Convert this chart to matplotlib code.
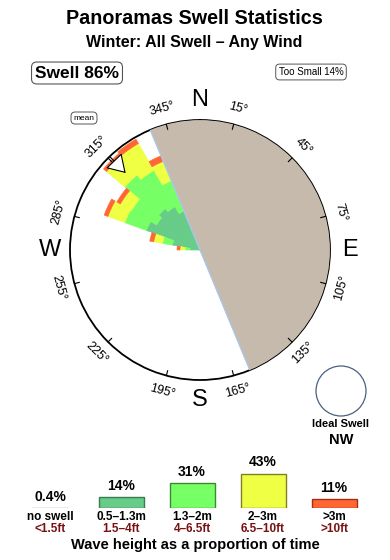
import numpy as np
import matplotlib
matplotlib.use("Agg")
import matplotlib.pyplot as plt
from matplotlib.patches import Circle

plt.rcParams['font.family'] = ['Liberation Sans', 'DejaVu Sans']

# ---------------- data ----------------
dir_centers = [275, 285, 295, 305, 315, 325, 335, 345]   # degrees (10-degree bins)
teal_len   = [10, 28, 57, 50, 54, 50, 42, 26]    # 0.5-1.3m
green_len  = [5, 10, 23, 29, 44, 42, 33, 24]     # 1.3-2m
yellow_len = [5, 9, 18, 13, 24, 31, 21, 16]      # 2-3m
orange_len = [3, 4, 4, 4, 4, 5, 6, 4]            # >3m
mean_dir = 316
shadow_start = 337.5   # land shadow sector start (deg), 180 wide
tick_deg = [15, 45, 75, 105, 135, 165, 195, 225, 255, 285, 315, 345]
compass = ['N', 'E', 'S', 'W']
compass_deg = [0, 90, 180, 270]

cats = ['no swell', '0.5–1.3m', '1.3–2m', '2–3m', '>3m']
feet = ['<1.5ft', '1.5–4ft', '4–6.5ft', '6.5–10ft', '>10ft']
pcts = [0.4, 14, 31, 43, 11]
pct_labels = ['0.4%', '14%', '31%', '43%', '11%']

teal, green, yellow, orange = '#66CC88', '#77FF66', '#EEFF44', '#FF6633'
beige = '#C5BAAB'

W, H = 390, 560
fig = plt.figure(figsize=(W/100, H/100), dpi=100)

def fx(px):
    return px / W

def fy(py):
    return 1 - py / H

# ---------------- titles ----------------
fig.text(fx(194), fy(19), 'Panoramas Swell Statistics', ha='center', va='center',
         fontsize=14.2, fontweight='bold')
fig.text(fx(194), fy(42), 'Winter: All Swell – Any Wind', ha='center', va='center',
         fontsize=11.5, fontweight='bold')
fig.text(fx(77), fy(73), 'Swell 86%', ha='center', va='center', fontsize=12.5,
         fontweight='bold',
         bbox=dict(boxstyle='round,pad=0.2,rounding_size=0.3', fc='white', ec='#555555', lw=0.8))
fig.text(fx(311), fy(72), 'Too Small 14%', ha='center', va='center', fontsize=7,
         bbox=dict(boxstyle='round,pad=0.3,rounding_size=0.4', fc='white', ec='#555555', lw=0.7))
fig.text(fx(84), fy(118), 'mean', ha='center', va='center', fontsize=6,
         bbox=dict(boxstyle='round,pad=0.3,rounding_size=0.5', fc='white', ec='#555555', lw=0.7))

# ---------------- rose ----------------
cx, cy, R = 200, 250, 130
ax = fig.add_axes([fx(cx - R), fy(cy + R), 2 * R / W, 2 * R / H], projection='polar')
ax.set_theta_zero_location('N')
ax.set_theta_direction(-1)
ax.set_ylim(0, 130)
ax.set_yticks([])
ax.set_xticks([])
ax.grid(False)
ax.spines['polar'].set_linewidth(1.3)
ax.spines['polar'].set_color('black')

theta = np.deg2rad(dir_centers)
width = np.deg2rad(10)
bottom = np.zeros(len(dir_centers))
for vals, col in [(teal_len, teal), (green_len, green), (yellow_len, yellow), (orange_len, orange)]:
    v = np.array(vals, dtype=float)
    ax.bar(theta, v, width=width, bottom=bottom, color=col, edgecolor=col,
           linewidth=0.4, zorder=2)
    bottom = bottom + v

# land shadow
ax.bar(np.deg2rad(shadow_start + 90), 130, width=np.pi, bottom=0, color=beige,
       edgecolor=beige, linewidth=0.3, zorder=3, align='center')
ax.plot([np.deg2rad(shadow_start)] * 2, [0, 130], color='#A8C8EE', lw=0.9, zorder=4)
ax.plot([np.deg2rad(shadow_start + 180)] * 2, [0, 130], color='#A8C8EE', lw=0.9, zorder=4)

# tick marks on the rim
for d in tick_deg:
    ax.plot([np.deg2rad(d)] * 2, [125, 130], color='black', lw=0.8, zorder=6, clip_on=False)

# mean arrow
tm = np.deg2rad(mean_dir)
ax.annotate('', xy=(tm, 107), xytext=(tm, 129),
            arrowprops=dict(arrowstyle='-|>,head_length=0.8,head_width=0.5',
                            fc='white', ec='black', lw=0.8, mutation_scale=14,
                            shrinkA=0, shrinkB=0), zorder=5)

# degree labels
for d in tick_deg:
    rot = -d if np.cos(np.deg2rad(d)) > 0 else 180 - d
    ax.text(np.deg2rad(d), 146, f'{d}°', rotation=rot, rotation_mode='anchor',
            ha='center', va='center', fontsize=9, clip_on=False)
for lab, d in zip(compass, compass_deg):
    ax.text(np.deg2rad(d), 150, lab, ha='center', va='center', fontsize=17, clip_on=False)

# ---------------- ideal swell ----------------
iax = fig.add_axes([fx(341 - 30), fy(391 + 30), 60 / W, 60 / H])
iax.set_xlim(-30, 30)
iax.set_ylim(-30, 30)
iax.set_aspect('equal')
iax.axis('off')
iax.add_patch(Circle((0, 0), 25, fc='white', ec='#4A6080', lw=0.9))
fig.text(fx(341), fy(424), 'Ideal Swell', ha='center', va='center', fontsize=8, fontweight='bold')
fig.text(fx(341), fy(440), 'NW', ha='center', va='center', fontsize=10.5, fontweight='bold')

# ---------------- legend bars ----------------
sp = 71.0
lax = fig.add_axes([0, fy(508), 1, 53 / H])
lax.set_xlim(-50 / sp, (W - 50) / sp)
lax.set_ylim(0, 53 / 0.8)
lax.axis('off')
xs = np.arange(len(cats))
bar_cols = ['#8899BB', teal, green, yellow, orange]
edge_cols = ['#8899BB', '#3C7A50', '#3C8A30', '#808020', '#A03010']
widths = [38 / sp] + [45 / sp] * 4
for x, v, c, ec, w in zip(xs, pcts, bar_cols, edge_cols, widths):
    lax.bar(x, v, width=w, color=c, edgecolor=ec, linewidth=1.0)
for x, v, lab in zip(xs, pcts, pct_labels):
    lax.annotate(lab, xy=(x, v), xytext=(0, 3), textcoords='offset points',
                 ha='center', va='bottom', fontsize=10, fontweight='bold')
for x, c, f in zip(xs, cats, feet):
    lax.text(x, -11.5, c, ha='center', va='center', fontsize=8.5, fontweight='bold', clip_on=False)
    lax.text(x, -26.5, f, ha='center', va='center', fontsize=8.5, fontweight='bold',
             color='#7A1010', clip_on=False)
fig.text(fx(195), fy(545), 'Wave height as a proportion of time', ha='center', va='center',
         fontsize=10.5, fontweight='bold')

fig.savefig('out.png', dpi=100)
